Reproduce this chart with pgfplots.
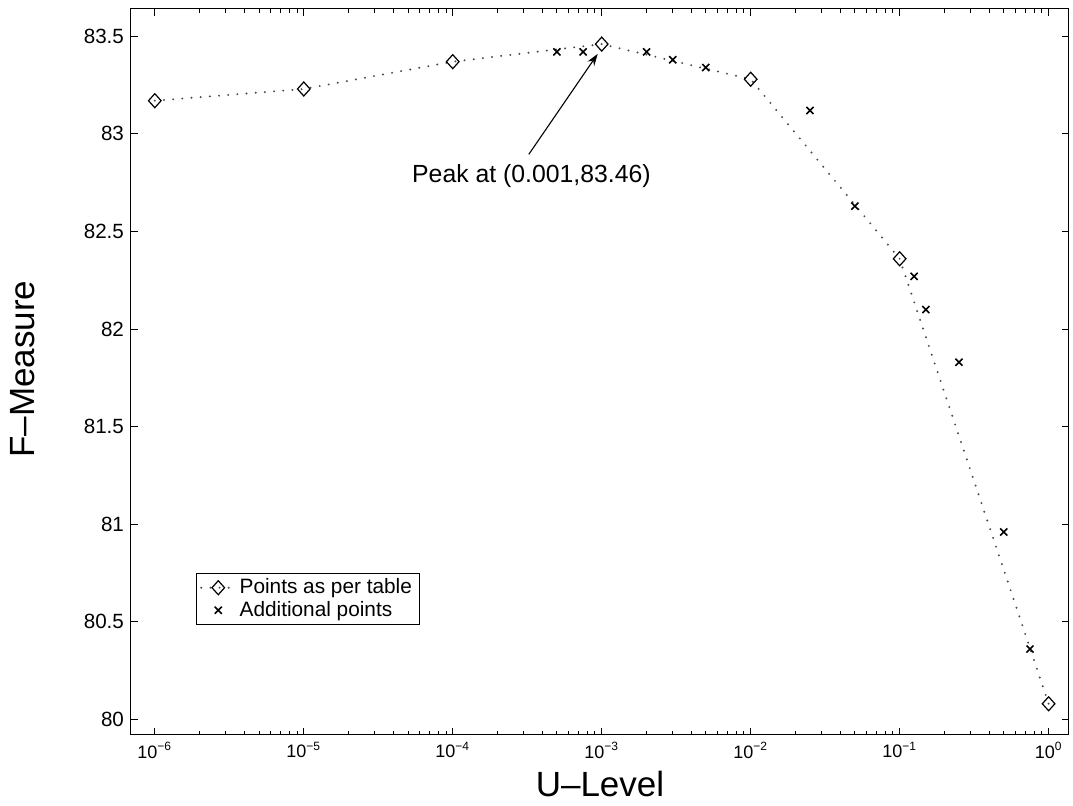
\documentclass[border=0pt]{standalone}
\usepackage{fontspec}
\setmainfont{Liberation Sans}
\usepackage{pgfplots}
\pgfplotsset{compat=1.18}
\usetikzlibrary{arrows.meta}
\begin{document}
\begin{tikzpicture}
\useasboundingbox (-65.5pt,-35.5pt) rectangle (471pt,367.5pt);
\begin{axis}[
  at={(0,0)}, anchor=south west,
  scale only axis, width=469pt, height=363pt,
  xmode=log,
  xmin=6.92e-7, xmax=1.37,
  ymin=79.92, ymax=83.64,
  xtick={1e-6,1e-5,1e-4,1e-3,1e-2,1e-1,1},
  xticklabels={10\textsuperscript{−6},10\textsuperscript{−5},10\textsuperscript{−4},10\textsuperscript{−3},10\textsuperscript{−2},10\textsuperscript{−1},10\textsuperscript{0}},
  ytick={80,80.5,81,81.5,82,82.5,83,83.5},
  yticklabels={80,80.5,81,81.5,82,82.5,83,83.5},
  tick align=inside,
  major tick length=3.5pt, minor tick length=2pt,
  tick style={black, line width=0.4pt},
  axis line style={line width=0.5pt},
  xticklabel style={font=\fontsize{9}{11}\selectfont},
  yticklabel style={font=\fontsize{10.3}{12}\selectfont},
  /pgf/number format/assume math mode=true,
  xlabel={U–Level}, ylabel={F–Measure},
  label style={font=\fontsize{17.5}{20}\selectfont},
  xlabel style={at={(axis description cs:0.5,-0.068)}, anchor=center},
  ylabel style={at={(axis description cs:-0.116,0.504)}, anchor=center},
  clip=false,
  legend style={at={(rel axis cs:0.069,0.223)}, anchor=north west,
    font=\fontsize{10.4}{12}\selectfont, draw=black, line width=0.4pt,
    inner xsep=2pt, inner ysep=1pt, row sep=-1pt,
    nodes={inner sep=1.6pt}, cells={anchor=west}},
  legend cell align=left,
]
\addplot[black!70, line width=1.1pt, line cap=round, dash pattern=on 0pt off 4.6pt,
  mark=diamond, mark size=3.5pt, mark options={solid, black, line width=0.6pt, line cap=butt, xscale=1.2}]
coordinates {
(1e-6,83.17) (1e-5,83.23) (1e-4,83.37) (1e-3,83.46) (1e-2,83.28) (1e-1,82.36) (1,80.08)
};
\addlegendentry{Points as per table}
\addplot[black, only marks, mark=x, mark size=2.5pt, mark options={line width=0.8pt}]
coordinates {
(5e-4,83.42) (7.5e-4,83.42) (2e-3,83.42) (3e-3,83.38) (5e-3,83.34) (2.5e-2,83.12)
(5e-2,82.63) (0.125,82.27) (0.15,82.10) (0.25,81.83) (0.5,80.96) (0.75,80.36)
};
\addlegendentry{Additional points}
\draw[-{Stealth[length=6pt,width=4pt]}, line width=0.55pt] (axis cs:3.24e-4,82.895) -- (axis cs:9.4e-4,83.41);
\node[anchor=base west, font=\fontsize{12.4}{14}\selectfont, inner sep=0pt] at (axis cs:5.31e-5,82.75) {Peak at (0.001,83.46)};
\end{axis}
\end{tikzpicture}
\end{document}
